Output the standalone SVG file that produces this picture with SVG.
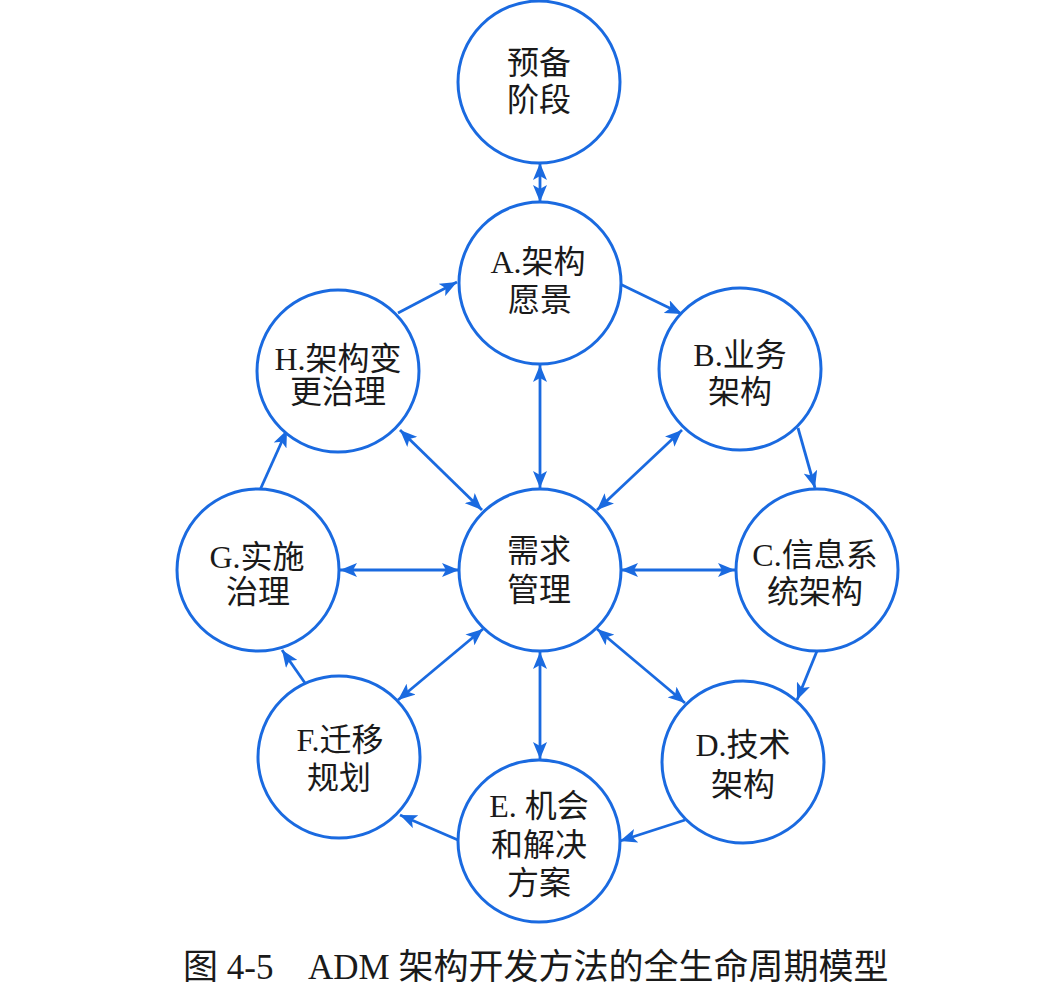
<svg xmlns="http://www.w3.org/2000/svg" width="1048" height="1003" viewBox="0 0 1048 1003">
<style>
.node circle{fill:#fff;stroke:#1a6ae0;stroke-width:3}
.node text{font-family:"Liberation Serif","Noto Sans CJK SC",serif;font-size:32px;fill:#1a1a1a;text-anchor:middle}
.conn line{stroke:#1a6ae0;stroke-width:2.8;fill:none}
.one{marker-end:url(#ah)}
.two{marker-start:url(#ah);marker-end:url(#ah)}
.cap{font-family:"Liberation Serif","Noto Sans CJK SC",serif;font-size:35px;fill:#1a1a1a}
</style>
<defs>
<marker id="ah" viewBox="0 0 17 14" refX="17" refY="7" markerWidth="17" markerHeight="14" markerUnits="userSpaceOnUse" orient="auto-start-reverse">
<path d="M0,0 L17,7 L0,14 L4,7 z" fill="#1a6ae0"/>
</marker>
</defs>
<rect width="1048" height="1003" fill="#fff"/>
<g id="connectors" class="conn">
<line class="two" x1="540" y1="163" x2="540" y2="202"/>
<line class="one" x1="620" y1="284" x2="682" y2="314"/>
<line class="one" x1="798" y1="428" x2="815" y2="488"/>
<line class="one" x1="817" y1="651" x2="797" y2="700"/>
<line class="one" x1="685" y1="820" x2="620" y2="841"/>
<line class="one" x1="458" y1="840" x2="400" y2="815"/>
<line class="one" x1="305" y1="683" x2="282" y2="650"/>
<line class="one" x1="260" y1="490" x2="287" y2="430"/>
<line class="one" x1="398" y1="313" x2="457" y2="282"/>
<line class="two" x1="540" y1="365" x2="540" y2="488"/>
<line class="two" x1="682" y1="430" x2="597" y2="510"/>
<line class="two" x1="621" y1="570" x2="735" y2="570"/>
<line class="two" x1="597" y1="629" x2="685" y2="703"/>
<line class="two" x1="540" y1="652" x2="540" y2="759"/>
<line class="two" x1="483" y1="629" x2="398" y2="700"/>
<line class="two" x1="459" y1="570" x2="340" y2="570"/>
<line class="two" x1="400" y1="430" x2="482" y2="510"/>
</g>
<g id="prelim" class="node"><circle cx="539" cy="82" r="81"/><text x="539" y="74">预备</text><text x="539" y="111">阶段</text></g>
<g id="A" class="node"><circle cx="540" cy="283" r="81"/><text x="538" y="273">A.架构</text><text x="540" y="311">愿景</text></g>
<g id="B" class="node"><circle cx="740" cy="369" r="81"/><text x="740" y="366">B.业务</text><text x="740" y="403">架构</text></g>
<g id="C" class="node"><circle cx="817" cy="570" r="81"/><text x="815" y="566">C.信息系</text><text x="815" y="603">统架构</text></g>
<g id="D" class="node"><circle cx="743" cy="762" r="81"/><text x="743" y="756">D.技术</text><text x="743" y="796">架构</text></g>
<g id="E" class="node"><circle cx="539" cy="841" r="81"/><text x="539" y="817">E. 机会</text><text x="539" y="856">和解决</text><text x="539" y="894">方案</text></g>
<g id="F" class="node"><circle cx="339" cy="757" r="81"/><text x="340" y="751">F.迁移</text><text x="339" y="789">规划</text></g>
<g id="G" class="node"><circle cx="258" cy="570" r="81"/><text x="257" y="568">G.实施</text><text x="258" y="603">治理</text></g>
<g id="H" class="node"><circle cx="338" cy="371" r="81"/><text x="338" y="370">H.架构变</text><text x="338" y="403">更治理</text></g>
<g id="M" class="node"><circle cx="540" cy="570" r="81"/><text x="539" y="562">需求</text><text x="539" y="601">管理</text></g>
<g id="caption"><text class="cap" x="183" y="979">图 4-5</text><text class="cap" x="308" y="979">ADM 架构开发方法的全生命周期模型</text></g>
</svg>
